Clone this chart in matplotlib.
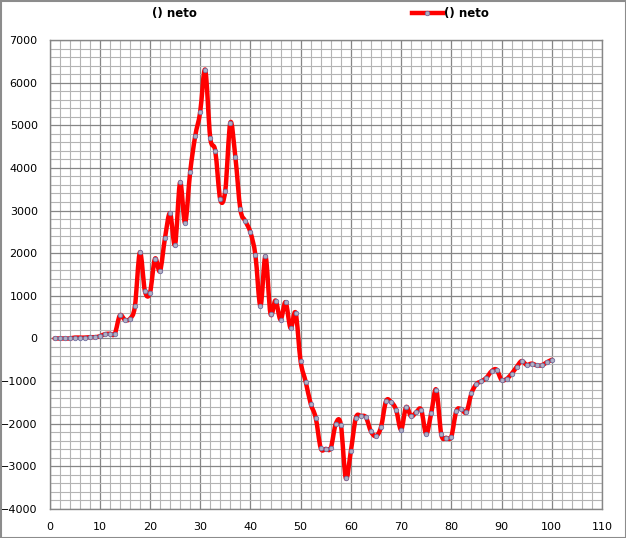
import matplotlib
matplotlib.use("Agg")
import matplotlib.pyplot as plt
from matplotlib.ticker import MultipleLocator
from matplotlib.patches import Rectangle, PathPatch
from matplotlib.path import Path
from matplotlib.lines import Line2D

x_vals = list(range(1, 101))
neto = [0, 0, 0, 0, 20, 20, 20, 30, 30, 50,
        100, 110, 110, 540, 440, 460, 750, 2020, 1110, 1070,
        1870, 1580, 2360, 2940, 2200, 3660, 2710, 3900, 4740, 5310,
        6300, 4710, 4400, 3260, 3470, 5060, 4260, 3030, 2750, 2490,
        1950, 760, 1930, 580, 890, 440, 850, 240, 600, -540,
        -1010, -1530, -1860, -2570, -2590, -2570, -2000, -2020, -3280, -2640,
        -1860, -1820, -1850, -2180, -2290, -2080, -1470, -1490, -1670, -2140,
        -1610, -1830, -1730, -1670, -2240, -1750, -1200, -2250, -2330, -2300,
        -1700, -1660, -1730, -1290, -1070, -1005, -920, -770, -730, -970,
        -950, -830, -670, -530, -620, -590, -630, -630, -560, -500]
series_label = "() neto"
title_text = "() neto"

fig = plt.figure(figsize=(6.26, 5.38), dpi=100)
ax = fig.add_axes([49.5/626, 1 - 509/538, (602 - 49.5)/626, (509 - 40)/538])

ax.set_xlim(0, 110)
ax.set_ylim(-4000, 7000)
ax.xaxis.set_major_locator(MultipleLocator(10))
ax.xaxis.set_minor_locator(MultipleLocator(2))
ax.yaxis.set_major_locator(MultipleLocator(1000))
ax.yaxis.set_minor_locator(MultipleLocator(200))
ax.grid(which="minor", color="#b4b4b4", linewidth=0.8)
ax.grid(which="major", color="#868686", linewidth=0.9)
ax.set_axisbelow(True)
for s in ax.spines.values():
    s.set_color("#868686")
    s.set_linewidth(1.0)
ax.tick_params(which="both", length=0)
ax.tick_params(axis="y", pad=8.5, labelsize=8)
ax.tick_params(axis="x", pad=9, labelsize=8)

# smoothed (Catmull-Rom style Bezier) line through the data points, like Excel's smoothed line
n = len(x_vals)
verts = [(x_vals[0], neto[0])]
codes = [Path.MOVETO]
for i in range(n - 1):
    x0, y0 = (x_vals[i - 1], neto[i - 1]) if i > 0 else (x_vals[i], neto[i])
    x1, y1 = x_vals[i], neto[i]
    x2, y2 = x_vals[i + 1], neto[i + 1]
    x3, y3 = (x_vals[i + 2], neto[i + 2]) if i + 2 < n else (x2, y2)
    c1 = (x1 + (x2 - x0) / 6.0, y1 + (y2 - y0) / 6.0)
    c2 = (x2 - (x3 - x1) / 6.0, y2 - (y3 - y1) / 6.0)
    verts += [c1, c2, (x2, y2)]
    codes += [Path.CURVE4] * 3
ax.add_patch(PathPatch(Path(verts, codes), facecolor="none", edgecolor="#ff0000",
                       linewidth=3.2, joinstyle="round", capstyle="round", zorder=3))
ax.plot(x_vals, neto, linestyle="none", marker="o", markersize=3.2,
        markerfacecolor="#b0b0c4", markeredgecolor="#7070a0",
        markeredgewidth=0.6, zorder=4)

fig.text(174/626, 1 - 13/538, title_text, ha="center", va="center",
         fontsize=8.5, fontweight="bold")
handle = Line2D([], [], color="#ff0000", linewidth=3.2, marker="o", markersize=3.2,
                markerfacecolor="#b0b0c4", markeredgecolor="#7070a0", markeredgewidth=0.6)
fig.legend([handle], [series_label], loc="center left",
           bbox_to_anchor=(412/626, 1 - 14/538), frameon=False,
           prop={"weight": "bold", "size": 8.5}, handlelength=2.6,
           handletextpad=0.1, borderaxespad=0, borderpad=0)

fig.patches.append(Rectangle((0.5/626, 0.5/538), 1 - 1/626, 1 - 1/538,
                             transform=fig.transFigure, fill=False,
                             edgecolor="#8c8c8c", linewidth=1.5))

fig.savefig("out.png", dpi=100)
